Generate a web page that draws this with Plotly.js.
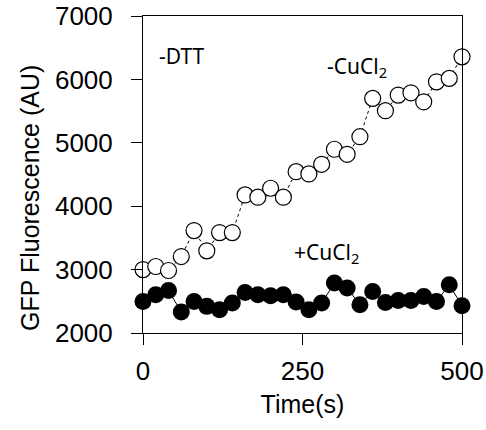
<!DOCTYPE html>
<html>
<head>
<meta charset="utf-8">
<script src="https://cdn.plot.ly/plotly-3.0.1.min.js"></script>
<style>html,body{margin:0;padding:0;background:#fff;}#chart{width:486px;height:430px;}</style>
</head>
<body>
<div id="chart"></div>
<script>
const time = [0,20,40,60,80,100,120,140,160,180,200,220,240,260,280,300,320,340,360,380,400,420,440,460,480,500];
const noCuCl2 = [3000,3049,2986,3206,3616,3296,3584,3584,4178,4142,4283,4142,4545,4509,4661,4898,4819,5096,5701,5506,5753,5789,5647,5962,6016,6356];
const withCuCl2 = [2498,2603,2671,2331,2498,2420,2367,2472,2640,2603,2587,2603,2490,2367,2472,2787,2709,2446,2655,2482,2513,2513,2577,2498,2761,2430];
const xTicks = [0,250,500];
const yTicks = [2000,3000,4000,5000,6000,7000];

const traces = [
  {x: time, y: withCuCl2, mode: 'lines+markers', cliponaxis: false,
   line: {color: '#000', width: 1},
   marker: {symbol: 'circle', size: 17, color: '#000', line: {width: 0}}},
  {x: time, y: noCuCl2, mode: 'lines+markers', cliponaxis: false,
   line: {color: '#000', width: 1, dash: 'dot'},
   marker: {symbol: 'circle', size: 16, color: '#fff', line: {color: '#000', width: 1.2}}}
];

const axisCommon = {
  showline: true, linecolor: '#000', linewidth: 1, mirror: true,
  ticks: 'outside', ticklen: 11, tickwidth: 1, tickcolor: '#000',
  showgrid: false, zeroline: false,
  tickfont: {family: 'Liberation Sans, Arial, sans-serif', size: 26, color: '#000'}
};

const layout = {
  width: 486, height: 430,
  margin: {l: 142.5, r: 23.5, t: 15.7, b: 96.7},
  paper_bgcolor: '#fff', plot_bgcolor: '#fff',
  showlegend: false,
  xaxis: Object.assign({}, axisCommon, {
    range: [0, 500], tickvals: xTicks, ticktext: xTicks.map(String),
    ticklabelstandoff: 4,
    title: {text: 'Time(s)', font: {family: 'Liberation Sans, Arial, sans-serif', size: 25, color: '#000'}, standoff: 10}
  }),
  yaxis: Object.assign({}, axisCommon, {
    range: [2000, 7000], tickvals: yTicks, ticktext: yTicks.map(String),
    ticklabelstandoff: 13
  }),
  annotations: [
    {text: 'GFP Fluorescence (AU)', textangle: -90, xref: 'paper', yref: 'paper',
     x: -0.352, y: 0.425, xanchor: 'center', yanchor: 'middle', showarrow: false,
     font: {family: 'Liberation Sans, Arial, sans-serif', size: 25, color: '#000'}},
    {text: '-DTT', xref: 'paper', yref: 'paper', x: 0.045, y: 0.875, xanchor: 'left', yanchor: 'middle',
     showarrow: false, font: {family: 'Noto Sans, sans-serif', size: 21, color: '#000'}},
    {text: '-CuCl<sub>2</sub>', xref: 'paper', yref: 'paper', x: 0.57, y: 0.84, xanchor: 'left', yanchor: 'middle',
     showarrow: false, font: {family: 'Noto Sans, sans-serif', size: 21, color: '#000'}},
    {text: '+CuCl<sub>2</sub>', xref: 'paper', yref: 'paper', x: 0.467, y: 0.252, xanchor: 'left', yanchor: 'middle',
     showarrow: false, font: {family: 'Noto Sans, sans-serif', size: 21, color: '#000'}}
  ]
};

Plotly.newPlot('chart', traces, layout, {displayModeBar: false, staticPlot: true});
</script>
</body>
</html>
